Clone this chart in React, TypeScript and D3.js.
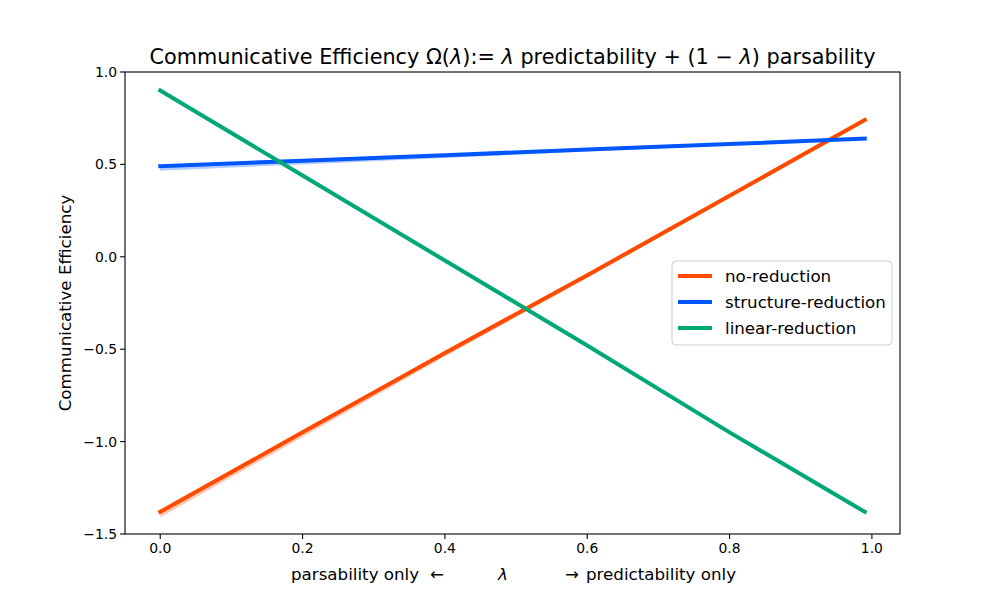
import { line, area, scaleLinear } from "d3";

const LAMBDAS = [0, 0.2, 0.4, 0.6, 0.8, 0.99];

const NO_REDUCTION = [-1.38, -0.95, -0.52, -0.1, 0.33, 0.74];
const NO_REDUCTION_LO = [-1.41, -0.975, -0.54, -0.115, 0.32, 0.735];
const NO_REDUCTION_HI = [-1.375, -0.945, -0.515, -0.095, 0.335, 0.745];

const STRUCTURE = [0.49, 0.52, 0.55, 0.58, 0.61, 0.64];
const STRUCTURE_LO = [0.465, 0.5, 0.535, 0.57, 0.605, 0.637];
const STRUCTURE_HI = [0.495, 0.523, 0.553, 0.583, 0.613, 0.643];

const LINEAR = [0.9, 0.44, -0.02, -0.48, -0.95, -1.38];
const LINEAR_LO = [0.895, 0.435, -0.027, -0.49, -0.96, -1.392];
const LINEAR_HI = [0.902, 0.442, -0.018, -0.477, -0.945, -1.375];

const X_TICKS = [0, 0.2, 0.4, 0.6, 0.8, 1.0];
const Y_TICKS = [1.0, 0.5, 0, -0.5, -1.0, -1.5];

const SERIES = [
  { name: "no-reduction", color: "#ff4a00", values: NO_REDUCTION, lo: NO_REDUCTION_LO, hi: NO_REDUCTION_HI },
  { name: "structure-reduction", color: "#0057ff", values: STRUCTURE, lo: STRUCTURE_LO, hi: STRUCTURE_HI },
  { name: "linear-reduction", color: "#00a877", values: LINEAR, lo: LINEAR_LO, hi: LINEAR_HI },
];

const W = 1000;
const H = 600;
const LEFT = 125;
const RIGHT = 900;
const TOP = 72;
const BOTTOM = 534;
const FONT = "DejaVu Sans, sans-serif";

export default function App() {
  const x = scaleLinear().domain([-0.0495, 1.0395]).range([LEFT, RIGHT]);
  const y = scaleLinear().domain([-1.5, 1.0]).range([BOTTOM, TOP]);

  const mkLine = (vals: number[]) =>
    line<number>()
      .x((_, i) => x(LAMBDAS[i]))
      .y((v) => y(v))(vals) ?? "";
  const mkBand = (lo: number[], hi: number[]) =>
    area<number>()
      .x((_, i) => x(LAMBDAS[i]))
      .y0((_, i) => y(lo[i]))
      .y1((_, i) => y(hi[i]))(lo) ?? "";

  return (
    <svg width={W} height={H} style={{ display: "block", margin: -8, fontFamily: FONT }}>
      <rect x={0} y={0} width={W} height={H} fill="#fff" />
      <text x={(LEFT + RIGHT) / 2} y={64} textAnchor="middle" fontSize={20.8} fill="#000">
        Communicative Efficiency Ω(<tspan fontStyle="italic">λ</tspan>):= <tspan fontStyle="italic">λ</tspan> predictability + (1 − <tspan fontStyle="italic">λ</tspan>) parsability
      </text>

      {SERIES.map((s) => (
        <path key={`band-${s.name}`} d={mkBand(s.lo, s.hi)} fill={s.color} fillOpacity={0.3} />
      ))}
      {SERIES.map((s) => (
        <path
          key={`line-${s.name}`}
          d={mkLine(s.values)}
          fill="none"
          stroke={s.color}
          strokeWidth={4}
          strokeLinecap="square"
        />
      ))}

      <rect x={LEFT} y={TOP} width={RIGHT - LEFT} height={BOTTOM - TOP} fill="none" stroke="#000" strokeWidth={1.1} />

      {X_TICKS.map((t) => (
        <g key={`xt-${t}`}>
          <line x1={x(t)} x2={x(t)} y1={BOTTOM} y2={BOTTOM + 4.9} stroke="#000" strokeWidth={1.1} />
          <text x={x(t)} y={BOTTOM + 19} textAnchor="middle" fontSize={13.9} fill="#000">
            {t.toFixed(1)}
          </text>
        </g>
      ))}
      {Y_TICKS.map((t) => (
        <g key={`yt-${t}`}>
          <line x1={LEFT - 4.9} x2={LEFT} y1={y(t)} y2={y(t)} stroke="#000" strokeWidth={1.1} />
          <text x={LEFT - 8} y={y(t) + 5} textAnchor="end" fontSize={13.9} fill="#000">
            {t.toFixed(1).replace("-", "−")}
          </text>
        </g>
      ))}

      <text x={291} y={580} fontSize={16.7} fill="#000">parsability only</text>
      <text x={430} y={580} fontSize={16.7} fill="#000">←</text>
      <text x={503} y={580} fontSize={16.7} fill="#000" fontStyle="italic" textAnchor="middle">λ</text>
      <text x={565} y={580} fontSize={16.7} fill="#000">→</text>
      <text x={586} y={580} fontSize={16.7} fill="#000">predictability only</text>

      <text
        transform={`translate(71, ${(TOP + BOTTOM) / 2}) rotate(-90)`}
        textAnchor="middle"
        fontSize={16.7}
        fill="#000"
      >
        Communicative Efficiency
      </text>

      <g>
        <rect x={672} y={261} width={220} height={84} rx={4} fill="#fff" fillOpacity={0.8} stroke="#cccccc" strokeWidth={1} />
        {SERIES.map((s, i) => (
          <g key={`lg-${s.name}`}>
            <line x1={678} x2={712} y1={276 + i * 26} y2={276 + i * 26} stroke={s.color} strokeWidth={4} />
            <text x={725} y={282 + i * 26} fontSize={16.7} fill="#000">
              {s.name}
            </text>
          </g>
        ))}
      </g>
    </svg>
  );
}
